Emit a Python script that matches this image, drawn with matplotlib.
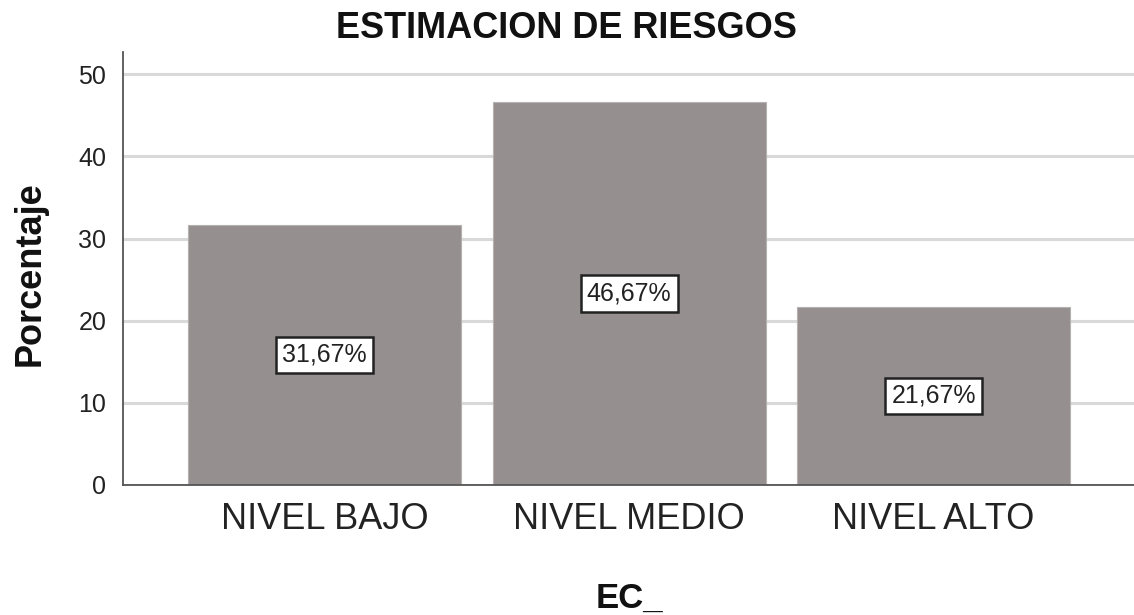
import matplotlib
matplotlib.use('Agg')
import matplotlib.pyplot as plt
import numpy as np

plt.rcParams['font.family'] = ['Liberation Sans', 'DejaVu Sans']

# data
categories = ['NIVEL BAJO', 'NIVEL MEDIO', 'NIVEL ALTO']
percentages = [31.67, 46.67, 21.67]
y_ticks = [0, 10, 20, 30, 40, 50]

bar_color = '#958f8f'
grid_color = '#d9d9d9'
spine_color = '#555555'

W, H = 1134, 615
fig = plt.figure(figsize=(W / 100, H / 100), dpi=100)
ax = fig.add_axes([123 / W, 1 - 485 / H, 1 - 123 / W, (485 - 52) / H])

x = np.arange(len(categories))
ax.set_axisbelow(True)
ax.yaxis.grid(True, color=grid_color, linewidth=2.2)
ax.bar(x, percentages, width=0.897, color=bar_color,
       edgecolor='#b5b1b1', linewidth=0.8, zorder=2)

# value boxes in the middle of each bar
for xi, v in zip(x, percentages):
    lbl = '{:.2f}%'.format(v).replace('.', ',')
    ax.text(xi, v / 2, lbl, ha='center', va='center', fontsize=18,
            color='#222222', zorder=3,
            bbox=dict(boxstyle='square,pad=0.25', facecolor='white',
                      edgecolor='#222222', linewidth=1.8))

ax.set_xlim(-0.662, 2.658)
ax.set_ylim(0, 52.7)
ax.set_yticks(y_ticks)
ax.set_xticks(x)
ax.set_xticklabels(categories, fontsize=26, color='#222222')
ax.tick_params(axis='y', labelsize=18, colors='#222222', length=0, pad=12)
ax.tick_params(axis='x', length=0, pad=12)

for side in ['top', 'right']:
    ax.spines[side].set_visible(False)
for side in ['left', 'bottom']:
    ax.spines[side].set_color(spine_color)
    ax.spines[side].set_linewidth(1.3)

fig.text(566 / W, 1 - 38 / H, 'ESTIMACION DE RIESGOS', fontsize=26,
         fontweight='bold', color='#111111', ha='center', va='baseline')
fig.text(30 / W, 1 - 274 / H, 'Porcentaje', fontsize=26, fontweight='bold',
         color='#111111', ha='center', va='center', rotation=90)
fig.text(629 / W, 1 - 608 / H, 'EC_', fontsize=25, fontweight='bold',
         color='#111111', ha='center', va='baseline')

fig.savefig('out.png', dpi=100)
